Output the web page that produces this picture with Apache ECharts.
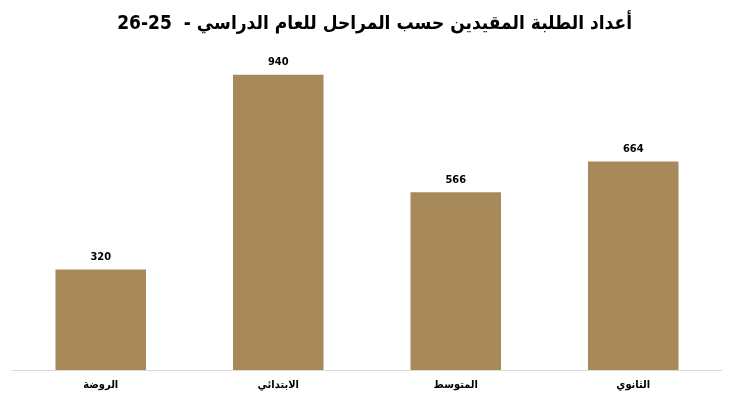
<!DOCTYPE html>
<html><head><meta charset="utf-8">
<script src="https://cdn.jsdelivr.net/npm/echarts@6/dist/echarts.min.js"></script>
<style>html,body{margin:0;padding:0;background:#fff}#c{width:733px;height:400px}</style>
</head><body><div id="c"></div>
<script>
const titleText = 'أعداد الطلبة المقيدين حسب المراحل للعام الدراسي -  25-26';
const categories = ['الروضة', 'الابتدائي', 'المتوسط', 'الثانوي'];
const values = [320, 940, 566, 664];
const chart = echarts.init(document.getElementById('c'));
chart.setOption({
  animation: false,
  title: {
    text: titleText, right: 96, top: 10,
    textStyle: { fontFamily: 'DejaVu Sans Condensed', fontWeight: 'bold', fontSize: 19, color: '#000' }
  },
  grid: { left: 12, right: 11, top: 56, bottom: 30 },
  xAxis: {
    type: 'category', data: categories,
    axisLine: { lineStyle: { color: '#d9d9d9' } },
    axisTick: { show: false },
    axisLabel: { color: '#000', fontWeight: 'bold', fontSize: 11, fontFamily: 'DejaVu Sans Condensed', margin: 10 }
  },
  yAxis: { type: 'value', min: 0, max: 1000, show: false, splitLine: { show: false } },
  series: [{
    type: 'bar', data: values, barWidth: '51%',
    itemStyle: { color: '#A8895A' },
    label: { show: true, position: 'top', distance: 7, color: '#000', fontWeight: 'bold', fontSize: 11, fontFamily: 'DejaVu Sans Condensed' }
  }]
});
</script></body></html>
